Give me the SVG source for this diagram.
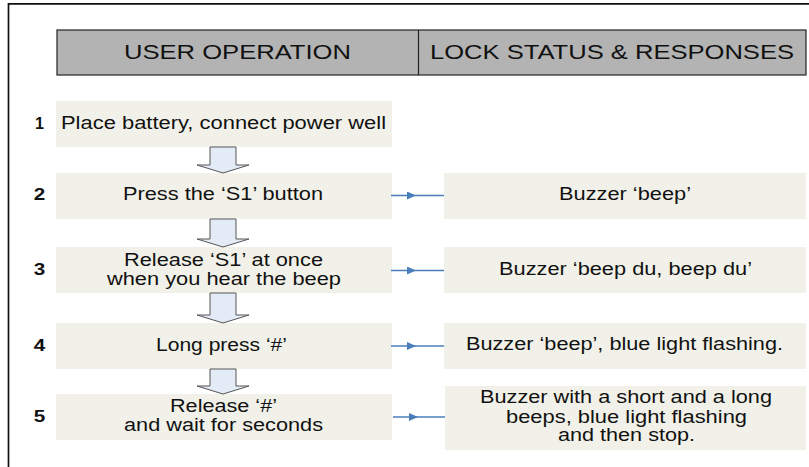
<svg xmlns="http://www.w3.org/2000/svg" width="809" height="467" viewBox="0 0 809 467">
<style>
.frame{fill:none;stroke:#111;stroke-width:1.7}
.hdr{fill:#b3b3b3;stroke:#222;stroke-width:1.2}
.box{fill:#f1f1e9;stroke:none}
.blk{fill:#e3ebf6;stroke:#555;stroke-width:1}
.con{fill:none;stroke:#4a7ebb;stroke-width:1.4}
text{font-family:"Liberation Sans",Arial,sans-serif;fill:#111;text-anchor:middle}
.h{font-size:21px}
.t{font-size:17.5px}
.n{font-size:17px;font-weight:bold}
</style>
<defs>
<marker id="ah" markerUnits="userSpaceOnUse" markerWidth="9" markerHeight="8" viewBox="0 0 9 8" refX="9" refY="4" orient="auto">
<path d="M0,0 L9,4 L0,8 Z" fill="#4a7ebb"/>
</marker>
</defs>
<rect width="809" height="467" fill="#fff"/>
<path class="frame" d="M8.5,470 V3.8 H812"/>
<g id="header">
<rect class="hdr" x="57" y="30" width="749" height="45"/>
<line x1="418.5" y1="30" x2="418.5" y2="75" stroke="#222" stroke-width="1.2"/>
<text class="h" x="237.5" y="58.5" textLength="227" lengthAdjust="spacingAndGlyphs">USER OPERATION</text>
<text class="h" x="612" y="58.5" textLength="364" lengthAdjust="spacingAndGlyphs">LOCK STATUS &amp; RESPONSES</text>
</g>
<g id="numbers">
<text class="n" x="39.5" y="129" textLength="9" lengthAdjust="spacingAndGlyphs">1</text>
<text class="n" x="39.5" y="200" textLength="11.5" lengthAdjust="spacingAndGlyphs">2</text>
<text class="n" x="39.5" y="275" textLength="11.5" lengthAdjust="spacingAndGlyphs">3</text>
<text class="n" x="39.5" y="350.5" textLength="11.5" lengthAdjust="spacingAndGlyphs">4</text>
<text class="n" x="39.5" y="421.5" textLength="11.5" lengthAdjust="spacingAndGlyphs">5</text>
</g>
<g id="step1">
<rect class="box" x="56" y="101" width="336" height="46"/>
<text class="t" x="223.5" y="129" textLength="325" lengthAdjust="spacingAndGlyphs">Place battery, connect power well</text>
</g>
<g id="step2">
<rect class="box" x="56" y="173" width="336" height="46"/>
<text class="t" x="223" y="200" textLength="200" lengthAdjust="spacingAndGlyphs">Press the ‘S1’ button</text>
</g>
<g id="step3">
<rect class="box" x="56" y="247" width="336" height="46"/>
<text class="t" x="223.5" y="265.5" textLength="199" lengthAdjust="spacingAndGlyphs">Release ‘S1’ at once</text>
<text class="t" x="224" y="285" textLength="234" lengthAdjust="spacingAndGlyphs">when you hear the beep</text>
</g>
<g id="step4">
<rect class="box" x="56" y="323" width="336" height="46"/>
<text class="t" x="221.5" y="350.5" textLength="131" lengthAdjust="spacingAndGlyphs">Long press ‘#’</text>
</g>
<g id="step5">
<rect class="box" x="56" y="394" width="336" height="46"/>
<text class="t" x="223.5" y="411.5" textLength="107" lengthAdjust="spacingAndGlyphs">Release ‘#’</text>
<text class="t" x="223.5" y="431" textLength="199" lengthAdjust="spacingAndGlyphs">and wait for seconds</text>
</g>
<g id="resp2">
<rect class="box" x="444" y="173" width="362" height="46"/>
<text class="t" x="625" y="200" textLength="132" lengthAdjust="spacingAndGlyphs">Buzzer ‘beep’</text>
</g>
<g id="resp3">
<rect class="box" x="444" y="247" width="362" height="46"/>
<text class="t" x="625.5" y="275" textLength="253" lengthAdjust="spacingAndGlyphs">Buzzer ‘beep du, beep du’</text>
</g>
<g id="resp4">
<rect class="box" x="444" y="323" width="362" height="46"/>
<text class="t" x="624.5" y="350" textLength="317" lengthAdjust="spacingAndGlyphs">Buzzer ‘beep’, blue light flashing.</text>
</g>
<g id="resp5">
<rect class="box" x="445" y="386" width="361" height="64"/>
<text class="t" x="626" y="403.3" textLength="292" lengthAdjust="spacingAndGlyphs">Buzzer with a short and a long</text>
<text class="t" x="626.5" y="422.7" textLength="241" lengthAdjust="spacingAndGlyphs">beeps, blue light flashing</text>
<text class="t" x="626.5" y="441" textLength="137" lengthAdjust="spacingAndGlyphs">and then stop.</text>
</g>
<g id="connectors">
<path class="blk" d="M210,147 H236 V165 H249 L223,173 L197,165 H210 Z"/>
<path class="blk" d="M210,219 H236 V239 H249 L223,247 L197,239 H210 Z"/>
<path class="blk" d="M210,293 H236 V315 H249 L223,323 L197,315 H210 Z"/>
<path class="blk" d="M210,369 H236 V386 H249 L223,394 L197,386 H210 Z"/>
<path class="con" marker-mid="url(#ah)" d="M391,195.5 L416,195.5 L444,195.5"/>
<path class="con" marker-mid="url(#ah)" d="M391,270.5 L416,270.5 L444,270.5"/>
<path class="con" marker-mid="url(#ah)" d="M391,346 L416,346 L444,346"/>
<path class="con" marker-mid="url(#ah)" d="M393,417 L418,417 L445,417"/>
</g>
</svg>
